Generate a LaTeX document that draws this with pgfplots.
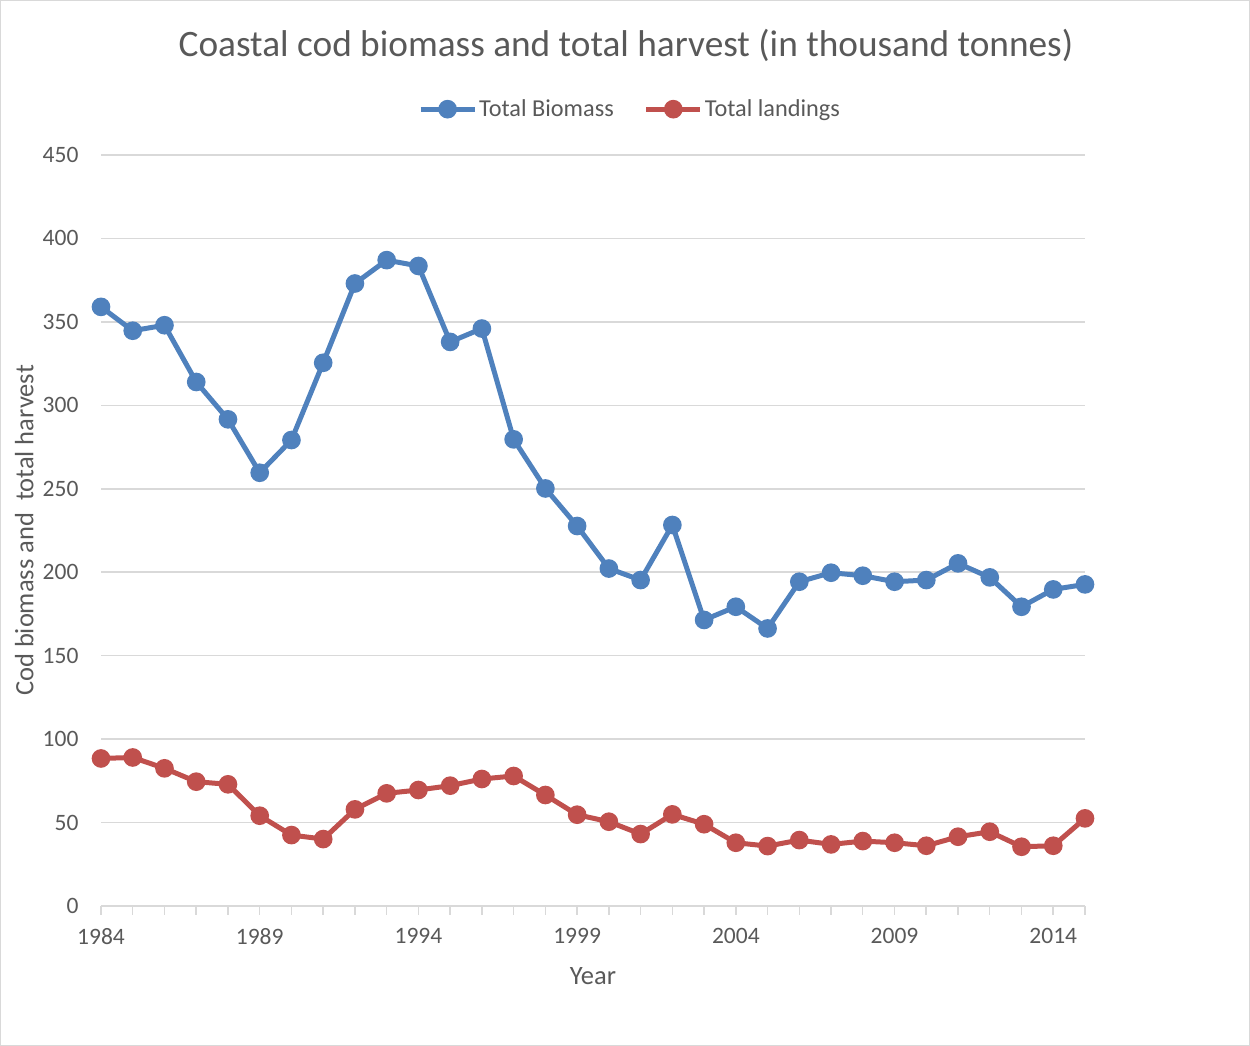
\documentclass[border=0pt]{standalone}
\usepackage{fontspec}
\setmainfont{Carlito}
\usepackage{pgfplots}
\pgfplotsset{compat=1.18}
\definecolor{txt}{RGB}{89,89,89}
\definecolor{bl}{RGB}{79,129,189}
\definecolor{rd}{RGB}{192,80,77}
\definecolor{grd}{RGB}{217,217,217}
\begin{document}
\begin{tikzpicture}[x=1pt,y=1pt]
\draw[draw=grd, line width=1pt] (0.5,0.5) rectangle (1249.5,1045.5);
\node[text=txt, font=\fontsize{37.3}{42}\selectfont] at (626,1001) {Coastal cod biomass and total harvest (in thousand tonnes)};
\begin{axis}[at={(101pt,140pt)}, anchor=south west, scale only axis,
  width=984pt, height=751pt,
  xmin=1984, xmax=2015, ymin=0, ymax=450,
  ytick={0,50,...,450},
  xtick={1984,1989,...,2014},
  minor xtick={1984,...,2015},
  /pgf/number format/1000 sep={},
  /pgf/number format/assume math mode=true,
  ticklabel style={font=\fontsize{23.5}{28}\selectfont, text=txt},
  axis x line*=bottom, axis y line*=left,
  x axis line style={draw=grd, line width=1.5pt},
  y axis line style={draw=none},
  xtick style={draw=grd, line width=1.5pt},
  minor x tick style={draw=grd, line width=1.5pt},
  major tick length=9pt, minor tick length=9pt,
  tick align=outside,
  ytick style={draw=none},
  ymajorgrids, grid style={draw=grd, line width=1.5pt},
  yticklabel style={xshift=-10pt},
  xticklabel style={yshift=-10pt},
  xlabel={Year}, ylabel={Cod biomass and \ total harvest},
  label style={font=\fontsize{26.5}{31}\selectfont, text=txt},
  xlabel style={at={(axis description cs:0.5,-0.093)}, anchor=center},
  ylabel style={at={(axis description cs:-0.078,0.5)}, anchor=center},
  clip=false,
  legend style={at={(0.5376,1.061)}, anchor=center, draw=none, fill=none,
    legend columns=2, font=\fontsize{24.3}{28}\selectfont, text=txt,
    /tikz/every even column/.append style={column sep=28pt}},
  legend image code/.code={\draw[mark repeat=2,mark phase=2,#1] plot coordinates {(0pt,0pt) (27pt,0pt) (54pt,0pt)};},
]
\addplot[color=bl, line width=5pt, mark=*, mark size=6.8pt, mark options={solid}] coordinates {
(1984,359) (1985,344.7) (1986,348) (1987,314) (1988,291.6) (1989,259.6)
(1990,279.2) (1991,325.5) (1992,373) (1993,387) (1994,383.5) (1995,338)
(1996,346) (1997,279.6) (1998,250.2) (1999,227.7) (2000,202.2) (2001,195.3)
(2002,228.3) (2003,171.4) (2004,179.3) (2005,166.3) (2006,194.3) (2007,199.7)
(2008,197.9) (2009,194.3) (2010,195.3) (2011,205.3) (2012,196.9) (2013,179.3)
(2014,189.7) (2015,192.7)};
\addlegendentry{Total Biomass}
\addplot[color=rd, line width=5pt, mark=*, mark size=6.8pt, mark options={solid}] coordinates {
(1984,88.4) (1985,89.0) (1986,82.5) (1987,74.5) (1988,72.9) (1989,54.1)
(1990,42.5) (1991,40.1) (1992,57.9) (1993,67.5) (1994,69.5) (1995,72.1)
(1996,76.1) (1997,77.9) (1998,66.5) (1999,54.7) (2000,50.5) (2001,43.1)
(2002,54.9) (2003,49.0) (2004,37.9) (2005,35.9) (2006,39.5) (2007,36.9)
(2008,38.9) (2009,37.9) (2010,36.1) (2011,41.5) (2012,44.5) (2013,35.5)
(2014,36.1) (2015,52.5)};
\addlegendentry{Total landings}
\end{axis}
\end{tikzpicture}
\end{document}
